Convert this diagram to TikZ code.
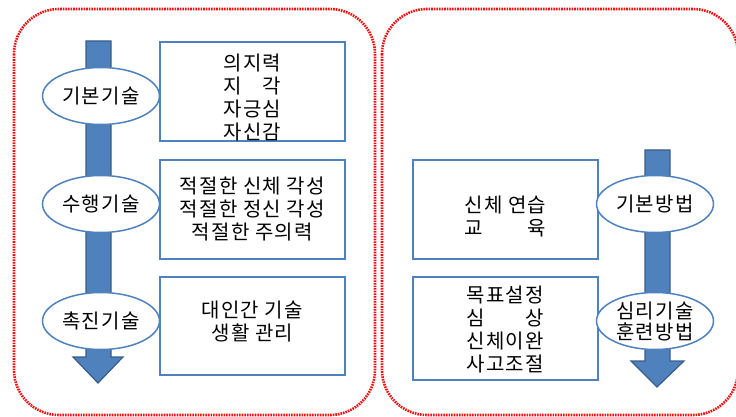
\documentclass[tikz,border=0pt]{standalone}
\usepackage{fontspec}
\usepackage{calc}
\setmainfont{Noto Sans CJK KR}[LetterSpace=6]
\usetikzlibrary{shapes.geometric}
\definecolor{arrowblue}{HTML}{4F81BD}
\definecolor{arrowedge}{HTML}{385D8A}
\definecolor{dotred}{HTML}{F01010}
\begin{document}
\begin{tikzpicture}[x=1pt,y=-1pt,
  font=\fontsize{20}{23}\selectfont,
  panel/.style={draw=dotred,line width=2.6pt,dash pattern=on 1.6pt off 1pt,rounded corners=45pt},
  bigarrow/.style={fill=arrowblue,draw=arrowedge,line width=1.2pt,line join=miter},
  stage/.style={ellipse,draw=arrowblue,fill=white,line width=1.5pt,minimum width=117pt,minimum height=57pt,inner sep=0pt,align=center},
  itembox/.style={draw=arrowblue,fill=white,line width=1.6pt,anchor=north west,inner sep=0pt,align=center}]
\useasboundingbox (0,0) rectangle (736,417);
% panels
\draw[panel] (14,9) rectangle (375,415);
\draw[panel] (382,9) rectangle (738,415);
% left arrow
\coordinate (la) at (98,41);
\draw[bigarrow] (86,41) -- (111,41) -- (111,357) -- (123,357) -- (98,383) -- (73,357) -- (86,357) -- cycle;
% right arrow
\coordinate (ra) at (657,150);
\draw[bigarrow] (645,150) -- (670,150) -- (670,361) -- (684,361) -- (657,387) -- (631,361) -- (645,361) -- cycle;
% left boxes
\node[itembox,minimum width=185pt,minimum height=99pt] (b1) at (159,41) {};
\node[align=center] (t1) at ([yshift=-6pt]b1.center) {의지력\\\makebox[\widthof{자긍심}][s]{지\hfill 각}\\자긍심\\자신감};
\node[itembox,minimum width=185pt,minimum height=99pt] (b2) at (159,159) {};
\node[align=center] (t2) at (b2.center) {적절한 신체 각성\\적절한 정신 각성\\적절한 주의력};
\node[itembox,minimum width=185pt,minimum height=98pt] (b3) at (159,276) {};
\node[align=center] (t3) at ([yshift=4pt]b3.center) {대인간 기술\\생활 관리};
% left ellipses
\node[stage] (e1) at (101,96) {기본기술};
\node[stage] (e2) at (101,204) {수행기술};
\node[stage] (e3) at (101,321) {촉진기술};
% right boxes
\node[itembox,minimum width=185pt,minimum height=99pt] (b4) at (412,159) {};
\node[align=left] (t4) at ([yshift=-7pt]b4.center) {신체 연습\\\makebox[\widthof{신체 연습}][s]{교\hfill 육}};
\node[itembox,minimum width=185pt,minimum height=103pt] (b5) at (412,276) {};
\node[align=left] (t5) at ([yshift=-1pt]b5.center) {목표설정\\\makebox[\widthof{목표설정}][s]{심\hfill 상}\\신체이완\\사고조절};
% right ellipses
\node[stage] (e4) at (655,204) {기본방법};
\node[stage,font=\fontsize{20}{21}\selectfont] (e5) at (655,321) {심리기술\\훈련방법};
\end{tikzpicture}
\end{document}
